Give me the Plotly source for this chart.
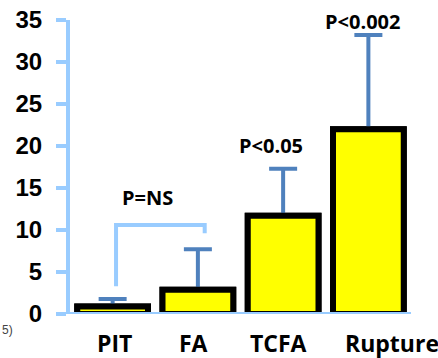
import plotly.graph_objects as go

# Plaque categories and mean values with upper error
categories = ["PIT", "FA", "TCFA", "Rupture"]
means = [0.9, 2.9, 11.7, 22.0]
upper_err = [0.9, 4.8, 5.6, 11.2]

# Significance labels above the bars
p_labels = ["P<0.05", "P<0.002"]
p_label_cats = ["TCFA", "Rupture"]
p_label_y = [20.1, 34.8]

# Non-significant bracket between PIT and FA
ns_label = "P=NS"
ns_left_y = 3.3
ns_top_y = 10.6
ns_right_y = 9.6

y_ticks = [0, 5, 10, 15, 20, 25, 30, 35]

AXIS_BLUE = "#99CCFF"
ERR_BLUE = "#4F81BD"
LABEL_FONT = "Open Sans"
BAR_MARKER = dict(color="#FFFF00", line=dict(color="black", width=6))

fig = go.Figure()
# Bars carrying the upward error bars
fig.add_trace(go.Bar(
    x=categories, y=means, marker=BAR_MARKER, width=0.83,
    error_y=dict(type="data", symmetric=False, array=upper_err,
                 arrayminus=[0] * len(means),
                 color=ERR_BLUE, thickness=4, width=14),
))
# Same bars redrawn on top so the lower error caps stay hidden
fig.add_trace(go.Bar(x=categories, y=means, marker=BAR_MARKER, width=0.83,
                     hoverinfo="skip"))

# Bracket joining PIT and FA
i_pit = categories.index("PIT")
i_fa = categories.index("FA")
x_l = i_pit + 0.04
x_r = i_fa + 0.08
fig.add_shape(type="path",
              path=f"M {x_l} {ns_left_y} L {x_l} {ns_top_y} L {x_r} {ns_top_y} L {x_r} {ns_right_y}",
              xref="x", yref="y",
              line=dict(color=AXIS_BLUE, width=4))
fig.add_annotation(x=(i_pit + i_fa) / 2 - 0.09, y=ns_top_y + 3.3, xref="x", yref="y",
                   text=f"<b>{ns_label}</b>", showarrow=False,
                   font=dict(family=LABEL_FONT, size=20, color="black"))

for lab, cat, yy, dx in zip(p_labels, p_label_cats, p_label_y, [-12, -6]):
    fig.add_annotation(x=categories.index(cat), y=yy, xref="x", yref="y",
                       text=f"<b>{lab}</b>", showarrow=False, xshift=dx,
                       font=dict(family=LABEL_FONT, size=20, color="black"))

# Category labels under the bars
for i, (cat, dx) in enumerate(zip(categories, [2, -4, -5, 24])):
    fig.add_annotation(x=i, y=0, xref="x", yref="y", yshift=-29, xshift=dx,
                       text=f"<b>{cat}</b>", showarrow=False,
                       font=dict(family=LABEL_FONT, size=23, color="black"))

# Baseline, extended a little to the left of the y axis
fig.add_shape(type="line", xref="paper", yref="y",
              x0=-0.035, x1=1.0, y0=0, y1=0,
              line=dict(color=AXIS_BLUE, width=4), layer="above")

# Cut-off footnote fragment at the far left
fig.add_annotation(xref="paper", yref="y", x=-70 / 341, y=0, yshift=-16,
                   xanchor="left", text="5)", showarrow=False,
                   font=dict(family="Liberation Sans", size=12, color="#444444"))

fig.update_layout(
    width=438, height=358,
    margin=dict(l=70, r=27, t=20, b=44),
    plot_bgcolor="white", paper_bgcolor="white",
    showlegend=False,
    barmode="overlay",
    xaxis=dict(
        range=[-0.5, 3.5], showline=False, ticks="", showgrid=False, zeroline=False,
        showticklabels=False, automargin=False,
    ),
    yaxis=dict(
        range=[0, 35], tickvals=y_ticks, ticktext=[f"<b>{v}</b>" for v in y_ticks],
        showgrid=False, zeroline=False, automargin=False,
        showline=True, linecolor=AXIS_BLUE, linewidth=4,
        ticks="outside", ticklen=10, tickwidth=4, tickcolor=AXIS_BLUE,
        tickfont=dict(family="Liberation Sans", size=24, color="black"),
        ticklabelstandoff=9,
    ),
)

fig.write_html("out.html")
